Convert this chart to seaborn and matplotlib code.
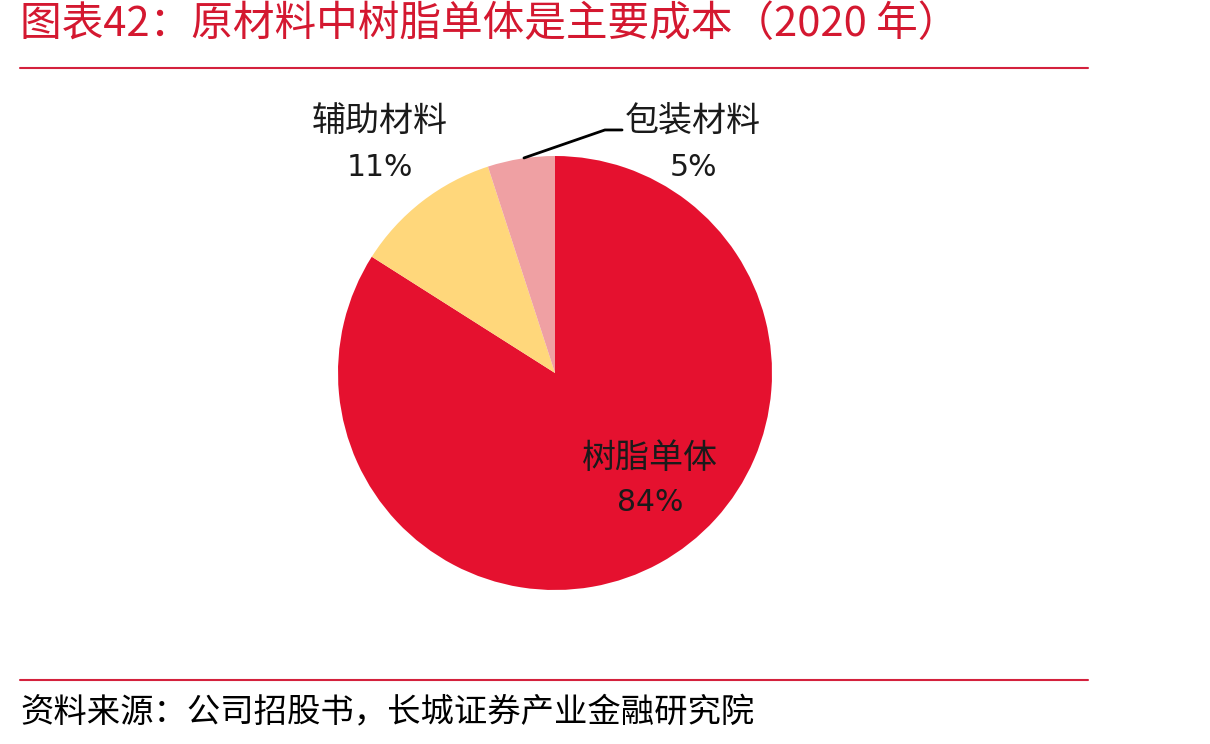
import matplotlib
matplotlib.use("Agg")
import matplotlib.pyplot as plt
import seaborn as sns
from matplotlib.lines import Line2D

categories = ["树脂单体", "辅助材料", "包装材料"]
values = [84, 11, 5]
colors = ["#E5112F", "#FFD77B", "#EFA0A3"]
title = "图表42：原材料中树脂单体是主要成本（2020 年）"
source = "资料来源：公司招股书，长城证券产业金融研究院"

sns.set_theme(style="white")
plt.rcParams["font.family"] = ["Noto Sans CJK SC", "DejaVu Sans"]

fig = plt.figure(figsize=(12.1, 7.44), dpi=100)
fig.patch.set_facecolor("white")

ax = fig.add_axes([(555 - 217) / 1210, (744 - 590) / 744, 434 / 1210, 434 / 744])
ax.pie(values, colors=sns.color_palette(colors), startangle=90, counterclock=False,
       radius=1, wedgeprops=dict(linewidth=0))
ax.set_xlim(-1, 1)
ax.set_ylim(-1, 1)
ax.set_aspect("equal")
ax.axis("off")

label_pos = {
    "树脂单体": (0.438, -0.392, -0.599),
    "辅助材料": (-0.806, 1.161, 0.945),
    "包装材料": (0.636, 1.161, 0.945),
}
for cat, val in zip(categories, values):
    x, y1, y2 = label_pos[cat]
    ax.text(x, y1, cat, ha="center", va="center", fontsize=24.5, color="#1a1a1a", clip_on=False)
    ax.text(x, y2, f"{val}%", ha="center", va="center", fontsize=21.5, color="#1a1a1a",
            family=["DejaVu Sans"], clip_on=False)

ax.plot([-0.143, 0.230, 0.309], [0.991, 1.12, 1.12], color="black", lw=2, clip_on=False)

fig.text(20 / 1210, 1 - 25 / 744, title, ha="left", va="center", fontsize=30,
         color="#D41830", style="italic")
fig.text(20 / 1210, 1 - 713 / 744, source, ha="left", va="center", fontsize=24,
         color="black", style="italic")
fig.add_artist(Line2D([20 / 1210, 1088 / 1210], [1 - 68 / 744] * 2, color="#D4213D", lw=1.5))
fig.add_artist(Line2D([20 / 1210, 1088 / 1210], [1 - 680 / 744] * 2, color="#D4213D", lw=1.5))

fig.savefig("out.png", dpi=100, facecolor="white")
